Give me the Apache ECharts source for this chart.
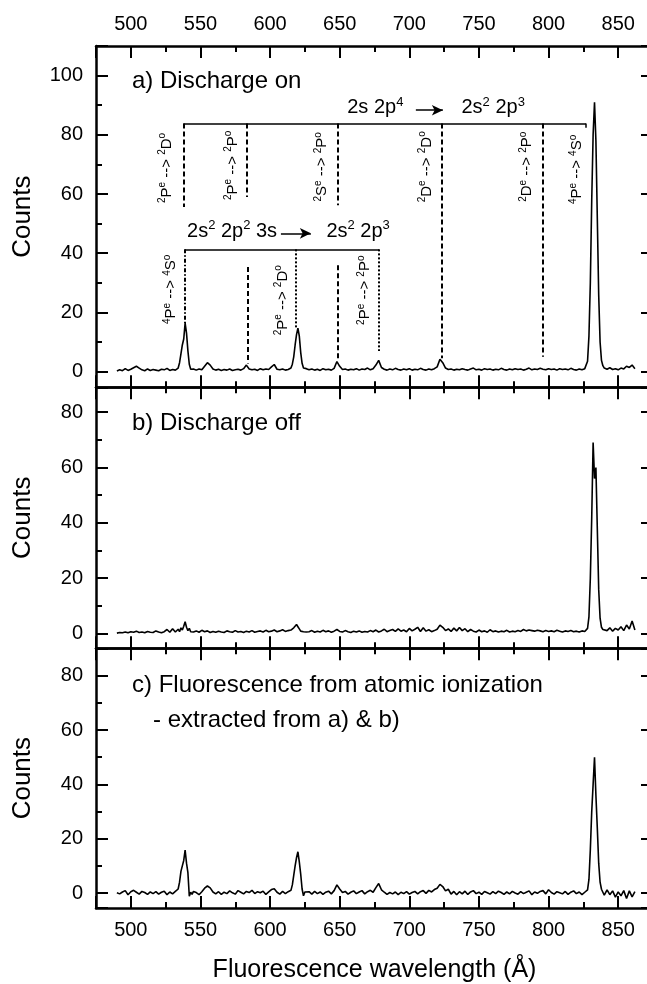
<!DOCTYPE html>
<html><head><meta charset="utf-8">
<script src="https://cdn.jsdelivr.net/npm/echarts@6/dist/echarts.min.js"></script>
<style>html,body{margin:0;padding:0;background:#fff;overflow:hidden}#c{width:662px;height:984px}</style>
</head><body><div id="c"></div>
<script>
// ---------- data ----------
const wavelengths = [
  490,492,494,496,498,500,502,504,506,508,510,512,514,516,518,520,522,524,526,528,530,532,
  533,534,535,536,537,538,539,540,541,542,543,544,545,
  547,549,551,553,555,557,559,561,563,565,567,569,571,573,575,577,579,581,583,585,587,589,591,593,595,597,599,601,603,605,607,609,611,613,
  614,615,616,617,618,619,620,621,622,623,624,625,626,
  628,630,632,634,636,638,640,642,644,646,
  648,650,652,654,656,658,660,662,664,666,
  668,670,672,674,676,678,680,682,684,686,
  688,690,692,694,696,698,700,702,704,706,
  708,710,712,714,716,718,720,722,724,726,
  728,730,732,734,736,738,740,742,744,746,
  748,750,752,754,756,758,760,762,764,766,
  768,770,772,774,776,778,780,782,784,786,
  788,790,792,794,796,798,800,802,804,806,
  808,810,812,814,816,818,820,822,824,826,
  827,828,829,830,831,832,833,834,835,836,837,838,839,840,
  842,844,846,848,850,852,854,856,858,860,862
];
const countsDischargeOn = [
  0.2,0.6,0.3,1.0,0.4,0.8,1.3,1.8,1.2,0.6,0.3,0.9,0.4,0.7,0.5,0.3,0.8,0.6,1.1,0.4,0.7,0.5,
  0.6,1.2,3.0,6.0,9.0,11.0,16.4,13.0,7.0,2.5,0.8,0.4,0.9,
  0.5,0.9,0.6,1.8,3.0,2.2,0.9,0.5,0.8,0.4,0.7,0.5,0.9,0.4,0.6,0.8,0.5,1.0,2.2,0.9,0.6,0.8,0.4,1.0,0.6,0.9,0.7,1.6,2.4,0.8,0.6,0.9,0.5,0.7,
  0.8,1.2,2.5,5.0,9.0,12.5,14.7,12.0,6.5,2.8,1.2,0.7,1.0,
  0.6,0.9,0.5,0.8,0.4,1.0,0.6,0.8,0.5,1.1,
  3.4,1.8,0.7,0.9,0.5,0.8,0.6,1.0,0.5,0.9,
  0.7,1.2,0.6,1.0,2.2,3.8,1.4,0.8,0.5,0.9,
  0.6,1.1,0.7,0.5,0.9,0.6,1.0,0.5,0.8,0.6,
  1.1,0.7,0.5,0.9,0.6,1.0,1.6,4.2,3.0,1.2,
  0.7,0.9,0.5,0.8,0.6,1.0,0.7,0.5,0.9,1.2,
  0.6,0.8,0.5,1.0,0.7,0.9,0.5,0.8,0.6,1.1,
  0.7,0.5,0.9,0.6,1.0,0.7,0.9,0.5,0.8,1.2,
  0.6,0.9,0.7,1.1,0.8,0.6,1.0,0.7,0.9,0.5,
  1.0,0.7,0.9,0.6,1.1,0.7,0.5,0.9,0.6,1.0,
  1.2,3.5,12,30,58,80,91,78,52,26,10,3.8,2.0,1.2,
  0.8,1.3,0.7,1.0,0.6,1.2,0.9,1.8,1.4,2.2,1.0
];
const countsDischargeOff = [
  0.1,0.3,0.2,0.5,0.2,0.6,0.4,0.8,0.3,0.5,0.2,0.7,0.4,0.3,0.9,0.5,0.2,0.6,1.4,0.4,1.7,0.5,
  0.8,1.5,0.6,2.0,1.2,2.6,4.2,2.2,1.0,1.8,0.6,1.2,0.5,
  0.9,0.4,1.1,0.6,0.9,0.3,0.7,0.4,0.8,0.5,0.3,0.9,0.6,0.4,1.0,0.5,0.7,0.3,0.8,0.5,1.0,0.4,0.7,0.9,0.5,1.1,0.6,0.8,1.2,0.6,0.9,1.3,0.7,1.0,
  0.8,1.2,0.6,2.0,1.4,3.2,2.4,1.6,0.8,1.3,0.6,1.0,0.5,
  0.6,1.0,0.4,0.8,0.5,1.1,0.6,0.9,0.4,0.8,
  1.4,0.7,0.5,1.0,0.6,0.3,0.8,0.5,0.9,0.4,
  0.7,0.5,1.0,0.6,1.2,0.5,0.9,1.5,0.6,1.0,
  1.4,0.7,1.6,0.8,1.2,0.6,1.8,0.9,1.5,2.2,
  0.7,2.0,0.8,1.3,0.6,1.0,1.5,3.0,2.2,1.0,
  1.6,0.7,1.9,0.9,2.1,1.0,1.7,0.6,1.4,0.8,
  0.5,1.2,0.6,0.9,0.4,1.3,0.6,0.9,0.5,0.8,
  0.6,1.1,0.5,0.8,0.6,1.0,0.7,1.4,0.9,1.2,
  1.0,0.8,1.1,0.9,0.6,1.0,0.7,0.9,0.6,1.1,
  0.8,0.5,0.9,0.7,1.0,0.6,0.8,0.5,0.9,0.7,
  0.6,1.8,6,20,42,69,56,60,38,16,5.5,2.2,1.4,0.8,
  1.0,2.0,0.8,1.8,1.2,2.4,1.0,3.0,1.6,4.5,1.2
];
const countsAtomic = [
  0.1,-0.3,0.4,0.9,-0.6,0.5,1.0,0.3,-0.4,0.6,0.2,-0.5,0.4,-0.2,0.5,-0.4,0.3,0.7,-0.6,0.4,-0.3,0.6,
  0.4,1.5,4.0,8.0,10.0,12.0,15.8,11.0,7.5,-1.2,0.3,-0.5,0.6,
  0.2,-0.6,0.5,1.8,2.6,1.9,0.4,-0.3,0.5,-0.5,0.3,-0.2,0.8,0.1,-0.4,0.9,0.3,-0.3,0.6,0.2,1.0,-0.2,0.5,0.1,0.7,-0.5,0.4,1.3,1.6,0.3,-0.4,0.6,-0.2,0.5,
  0.3,1.0,3.0,6.5,10.0,13.0,15.2,11.5,7.0,1.5,-1.0,0.4,-0.3,
  0.5,-0.4,0.6,-0.2,0.4,-0.5,0.3,0.7,-0.3,0.9,
  3.0,1.5,0.2,0.6,-0.4,0.3,0.8,-0.2,0.4,0.9,
  -0.3,0.5,1.0,0.3,2.0,3.5,1.2,0.3,-0.5,0.2,
  -0.3,0.4,-0.6,0.3,-0.2,0.5,-0.4,0.2,0.6,-0.3,
  0.5,0.9,-0.1,1.0,0.4,1.3,1.8,3.2,2.4,0.8,
  1.4,-0.4,0.6,-0.6,0.5,-0.3,0.7,-0.5,0.4,0.9,
  -0.2,0.3,-0.5,0.6,0.1,-0.4,0.5,-0.2,0.7,0.2,
  -0.5,0.4,-0.3,0.6,0.0,-0.4,0.5,-0.2,0.3,0.8,
  -0.6,0.4,-0.1,0.6,0.9,-0.3,1.2,0.2,-0.4,0.5,
  0.1,-0.3,0.6,-0.5,0.3,0.8,-0.2,0.4,-0.6,0.3,
  0.5,1.2,5,16,30,40,50,36,24,11,4,1.4,0.3,-0.8,
  1.2,-0.6,0.8,-1.5,0.4,-1.0,0.9,-2.0,0.8,-1.4,0.5
];
const panelLabels = ['a) Discharge on', 'b) Discharge off', 'c) Fluorescence from atomic ionization', '- extracted from a) & b)'];
const xAxisTitle = 'Fluorescence wavelength (\u00C5)';
const yAxisTitle = 'Counts';

// transition lines in data units [wavelength, counts]
const transitionLines = [
  {from:[537.8,83.8], to:[826.9,83.8], kind:'solid'},
  {from:[826.9,83.8], to:[826.9,82.4], kind:'solid'},
  {from:[537.8,83.8], to:[537.8,55.6], kind:'dashed'},
  {from:[583.1,83.8], to:[583.1,59.0], kind:'dashed'},
  {from:[584.2,35.3], to:[584.2,2.7], kind:'dashed'},
  {from:[648.9,83.8], to:[648.9,56.2], kind:'dashed'},
  {from:[648.6,35.9], to:[648.6,4.4], kind:'dashed'},
  {from:[723.4,83.8], to:[723.4,4.5], kind:'dashed'},
  {from:[795.8,83.8], to:[795.8,5.0], kind:'dashed'},
  {from:[538.8,41.3], to:[678.4,41.3], kind:'solid'},
  {from:[538.8,41.3], to:[538.8,16.4], kind:'dashDot'},
  {from:[618.5,41.3], to:[618.5,14.5], kind:'dotted'},
  {from:[678.4,41.3], to:[678.4,7.0], kind:'dotted'}
];
const transitionArrows = [
  {from:[704.7,88.3], to:[724.1,88.3]},
  {from:[607.8,46.7], to:[629.3,46.7]}
];
const rotatedLabels = [
  {at:[525.7,68.8], text:'{s|2}{m|P}{s|e}{m| --> }{s|2}{m|D}{s|o}'},
  {at:[573.1,69.7], text:'{s|2}{m|P}{s|e}{m| --> }{s|2}{m|P}{s|o}'},
  {at:[637.2,69.2], text:'{s|2}{m|S}{s|e}{m| --> }{s|2}{m|P}{s|o}'},
  {at:[712.5,69.2], text:'{s|2}{m|D}{s|e}{m| --> }{s|2}{m|D}{s|o}'},
  {at:[784.4,69.2], text:'{s|2}{m|D}{s|e}{m| --> }{s|2}{m|P}{s|o}'},
  {at:[820.3,68.3], text:'{s|4}{m|P}{s|e}{m| --> }{s|4}{m|S}{s|o}'},
  {at:[528.7,27.8], text:'{s|4}{m|P}{s|e}{m| --> }{s|4}{m|S}{s|o}'},
  {at:[609.0,24.1], text:'{s|2}{m|P}{s|e}{m| --> }{s|2}{m|D}{s|o}'},
  {at:[668.0,27.5], text:'{s|2}{m|P}{s|e}{m| --> }{s|2}{m|P}{s|o}'}
];
const configLabels = [
  {at:[696.1,89.2], side:'left',  text:'{M|2s 2p}{S|4}'},
  {at:[737.1,89.2], side:'right', text:'{M|2s}{S|2}{M| 2p}{S|3}'},
  {at:[605.4,47.4], side:'left',  text:'{M|2s}{S|2}{M| 2p}{S|2}{M| 3s}'},
  {at:[640.1,47.4], side:'right', text:'{M|2s}{S|2}{M| 2p}{S|3}'}
];

// ---------- chart ----------
const FONT = '"Liberation Sans", Arial, Helvetica, sans-serif';
const lineStyles = {
  solid:  {type:'solid', width:1.5, color:'#000'},
  dashed: {type:[5,3], width:2, color:'#000'},
  dotted: {type:[2,2], width:2, color:'#000'},
  dashDot:{type:[4,2,1.5,2], width:2, color:'#000'}
};
const pairs = arr => wavelengths.map((w, i) => [w, arr[i]]);

const GL = 96, GW = 557;
const grids = [
  {left:GL, top:46, width:GW, height:341.3},
  {left:GL, top:387.3, width:GW, height:261},
  {left:GL, top:648.3, width:GW, height:261.4}
];
const yRanges = [[-5.3,110],[-5.4,89],[-5.5,90.1]];

const axisLineStyle = {color:'#000', width:2.5};
const tickStyle = {color:'#000', width:2};
function xAx(g, pos, labels, name) {
  const a = {
    type:'value', gridIndex:g, position:pos, min:475, max:875, splitNumber:8,
    axisLine:{show:true, onZero:false, lineStyle:axisLineStyle},
    axisTick:{show:true, inside:true, length:12, lineStyle:tickStyle},
    minorTick:{show:true, splitNumber:2, length:6, lineStyle:tickStyle},
    splitLine:{show:false}, minorSplitLine:{show:false},
    axisLabel:{show:labels, showMinLabel:false, showMaxLabel:false, color:'#000', fontSize:20, fontFamily:FONT, margin:12}
  };
  if (name) {
    a.name = name; a.nameLocation = 'middle'; a.nameGap = 50;
    a.nameTextStyle = {fontSize:25, fontFamily:FONT, color:'#000'};
  }
  return a;
}
function yAx(g, pos, labels) {
  const a = {
    type:'value', gridIndex:g, position:pos, min:yRanges[g][0], max:yRanges[g][1], splitNumber:5,
    axisLine:{show:true, onZero:false, lineStyle:axisLineStyle},
    axisTick:{show:true, inside:true, length:12, lineStyle:tickStyle},
    minorTick:{show:true, splitNumber:2, length:6, lineStyle:tickStyle},
    splitLine:{show:false}, minorSplitLine:{show:false},
    axisLabel:{show:labels, showMinLabel:false, showMaxLabel:false, color:'#000', fontSize:20, fontFamily:FONT, margin:13}
  };
  if (labels) {
    a.name = yAxisTitle; a.nameLocation = 'middle'; a.nameGap = 60; a.nameRotate = 90;
    a.nameTextStyle = {fontSize:26, fontFamily:FONT, color:'#000'};
  }
  return a;
}

const richRot = {
  m:{fontSize:15, fontFamily:FONT, color:'#000', lineHeight:18},
  s:{fontSize:10, fontFamily:FONT, color:'#000', lineHeight:10, verticalAlign:'top'}
};
const richCfg = {
  M:{fontSize:20, fontFamily:FONT, color:'#000', lineHeight:24},
  S:{fontSize:13, fontFamily:FONT, color:'#000', lineHeight:13, verticalAlign:'top'}
};

const markLineData = transitionLines.map(l => [
  {coord:l.from, symbol:'none', lineStyle:lineStyles[l.kind]},
  {coord:l.to, symbol:'none'}
]).concat(transitionArrows.map(a => [
  {coord:a.from, symbol:'none', lineStyle:lineStyles.solid},
  {coord:a.to, symbol:'arrow', symbolSize:[8,11]}
]));

const markPointData = rotatedLabels.map(l => ({
  coord:l.at, value:0,
  label:{show:true, position:'inside', rotate:90, formatter:l.text, rich:richRot, color:'#000'}
})).concat(configLabels.map(l => ({
  coord:l.at, value:0,
  label:{show:true, position:l.side, distance:0, formatter:l.text, rich:richCfg, color:'#000'}
})));

const seriesBase = {type:'line', showSymbol:false, symbol:'none', animation:false,
  lineStyle:{color:'#000', width:1.6}, itemStyle:{color:'#000'}, silent:true};

const option = {
  backgroundColor:'#fff',
  animation:false,
  grid:grids,
  xAxis:[xAx(0,'bottom',false), xAx(0,'top',true), xAx(1,'bottom',false), xAx(1,'top',false), xAx(2,'bottom',true,xAxisTitle), xAx(2,'top',false)],
  yAxis:[yAx(0,'left',true), yAx(0,'right',false), yAx(1,'left',true), yAx(1,'right',false), yAx(2,'left',true), yAx(2,'right',false)],
  series:[
    Object.assign({}, seriesBase, {name:'a', xAxisIndex:0, yAxisIndex:0, data:pairs(countsDischargeOn),
      markLine:{silent:true, animation:false, symbol:['none','none'], label:{show:false}, data:markLineData},
      markPoint:{silent:true, animation:false, symbol:'circle', symbolSize:1, itemStyle:{color:'rgba(0,0,0,0)'}, data:markPointData}
    }),
    Object.assign({}, seriesBase, {name:'b', xAxisIndex:2, yAxisIndex:2, data:pairs(countsDischargeOff)}),
    Object.assign({}, seriesBase, {name:'c', xAxisIndex:4, yAxisIndex:4, data:pairs(countsAtomic)})
  ],
  graphic:[
    {type:'text', x:132, y:81, style:{text:panelLabels[0], fontSize:24, fontFamily:FONT, fill:'#000', verticalAlign:'middle', textVerticalAlign:'middle', align:'left'}},
    {type:'text', x:132, y:423, style:{text:panelLabels[1], fontSize:24, fontFamily:FONT, fill:'#000', verticalAlign:'middle', textVerticalAlign:'middle', align:'left'}},
    {type:'text', x:132, y:685, style:{text:panelLabels[2], fontSize:24, fontFamily:FONT, fill:'#000', verticalAlign:'middle', textVerticalAlign:'middle', align:'left'}},
    {type:'text', x:153, y:720, style:{text:panelLabels[3], fontSize:24, fontFamily:FONT, fill:'#000', verticalAlign:'middle', textVerticalAlign:'middle', align:'left'}}
  ]
};
const chart = echarts.init(document.getElementById('c'), null, {renderer:'canvas'});
chart.setOption(option);
</script>
</body></html>
